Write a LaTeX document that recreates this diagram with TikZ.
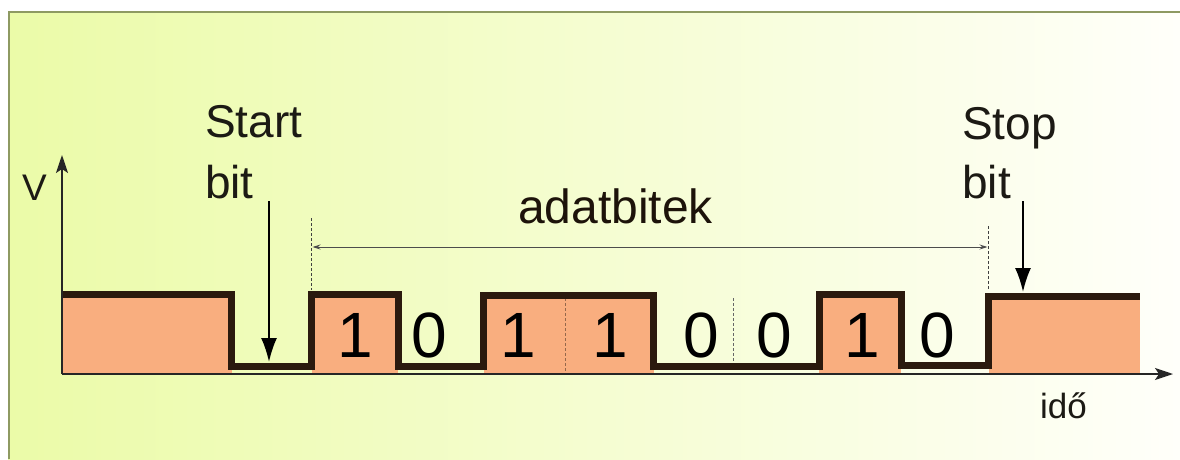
\documentclass[tikz,border=0pt]{standalone}
\usepackage{fontspec}
\setmainfont{Liberation Sans}
\usetikzlibrary{arrows.meta}
\definecolor{bgleft}{HTML}{EBFBA8}
\definecolor{bgright}{HTML}{FFFFFA}
\definecolor{frame}{HTML}{8E9A62}
\definecolor{wave}{HTML}{2B1A0E}
\definecolor{salmon}{HTML}{F9AE7F}
\definecolor{txt}{HTML}{1C1A14}
\newcommand\mysize[1]{\fontsize{#1}{#1}\selectfont}
\tikzset{
  lbl/.style={anchor=base west, inner sep=0pt, text=txt, font=\mysize{46}},
  digit/.style={anchor=base, inner sep=0pt, text=black, font=\mysize{64}},
  waveline/.style={draw=wave, line width=7pt, line join=miter},
  highfill/.style={fill=salmon, draw=none},
  axisline/.style={draw=black!85, line width=1.5pt, -{Stealth[length=18pt,width=12pt,inset=4pt]}},
  bigarrow/.style={draw=black, line width=2pt, -{Latex[length=24pt,width=16pt]}},
  guide/.style={draw=black!75, line width=0.8pt, dashed, dash pattern=on 3pt off 2pt},
  span/.style={draw=black!70, line width=1pt, {Stealth[length=8pt,width=5pt]}-{Stealth[length=8pt,width=5pt]}},
  divider/.style={line width=0.8pt, dash pattern=on 3pt off 2pt}
}
\begin{document}
\begin{tikzpicture}[x=1pt,y=-1pt]
\useasboundingbox (0,0) rectangle (1180,459);
\fill[white] (0,0) rectangle (1180,459);
\shade[left color=bgleft, right color=bgright] (8,11) rectangle (1180,459);
\draw[frame, line width=2pt] (9,459) -- (9,12) -- (1180,12);

% salmon fills under high levels
\fill[highfill] (62,294) rectangle (231.5,373);
\fill[highfill] (311.5,294) rectangle (398,373);
\fill[highfill] (483.5,294) rectangle (653.5,373);
\fill[highfill] (819,294) rectangle (901,373);
\fill[highfill] (988.5,294) rectangle (1140,373);

% dividers between equal bits
\coordinate (d1t) at (565,298);
\coordinate (d1b) at (565,372);
\draw[divider, draw=salmon!60!black] (d1t) -- (d1b);
\coordinate (d2t) at (733,298);
\coordinate (d2b) at (733,364);
\draw[divider, draw=black!60] (d2t) -- (d2b);

% waveform
\draw[waveline] (62,294) -- (231.5,294) -- (231.5,366) -- (311.5,366) -- (311.5,294)
  -- (398,294) -- (398,366) -- (483.5,366) -- (483.5,295.5) -- (653.5,295.5)
  -- (653.5,366) -- (819,366) -- (819,294) -- (901,294) -- (901,365)
  -- (988.5,365) -- (988.5,296) -- (1140,296);

% axes
\coordinate (origin) at (62,374);
\coordinate (vtop) at (62,155);
\coordinate (tend) at (1173,374);
\draw[axisline] (origin) -- (vtop);
\draw[axisline] (origin) -- (tend);
\node[lbl, font=\mysize{37}] (vlab) at (22,200) {V};
\node[lbl, font=\mysize{35}] (idolab) at (1040,418) {idő};

% start bit
\node[lbl] (start1) at (205,137) {Start};
\node[lbl] (start2) at (205,198) {bit};
\coordinate (sa) at (269,201);
\coordinate (sb) at (269,362);
\draw[bigarrow] (sa) -- (sb);

% stop bit
\node[lbl] (stop1) at (962,139) {Stop};
\node[lbl] (stop2) at (962,198) {bit};
\coordinate (pa) at (1023,201);
\coordinate (pb) at (1023,292);
\draw[bigarrow] (pa) -- (pb);

% data span
\coordinate (g1t) at (311.5,218);
\coordinate (g1b) at (311.5,290);
\coordinate (g2t) at (988.5,226);
\coordinate (g2b) at (988.5,290);
\draw[guide] (g1t) -- (g1b);
\draw[guide] (g2t) -- (g2b);
\coordinate (s1) at (312.5,247);
\coordinate (s2) at (987.5,247);
\draw[span] (s1) -- (s2);
\node[lbl, font=\mysize{48}, text=black!85!brown] (adat) at (518,223) {adatbitek};

% bits
\node[digit] (b1) at (355,357) {1};
\node[digit] (b2) at (429,357) {0};
\node[digit] (b3) at (518,357) {1};
\node[digit] (b4) at (610,357) {1};
\node[digit] (b5) at (701,357) {0};
\node[digit] (b6) at (774,357) {0};
\node[digit] (b7) at (862,357) {1};
\node[digit] (b8) at (937,357) {0};
\end{tikzpicture}
\end{document}
